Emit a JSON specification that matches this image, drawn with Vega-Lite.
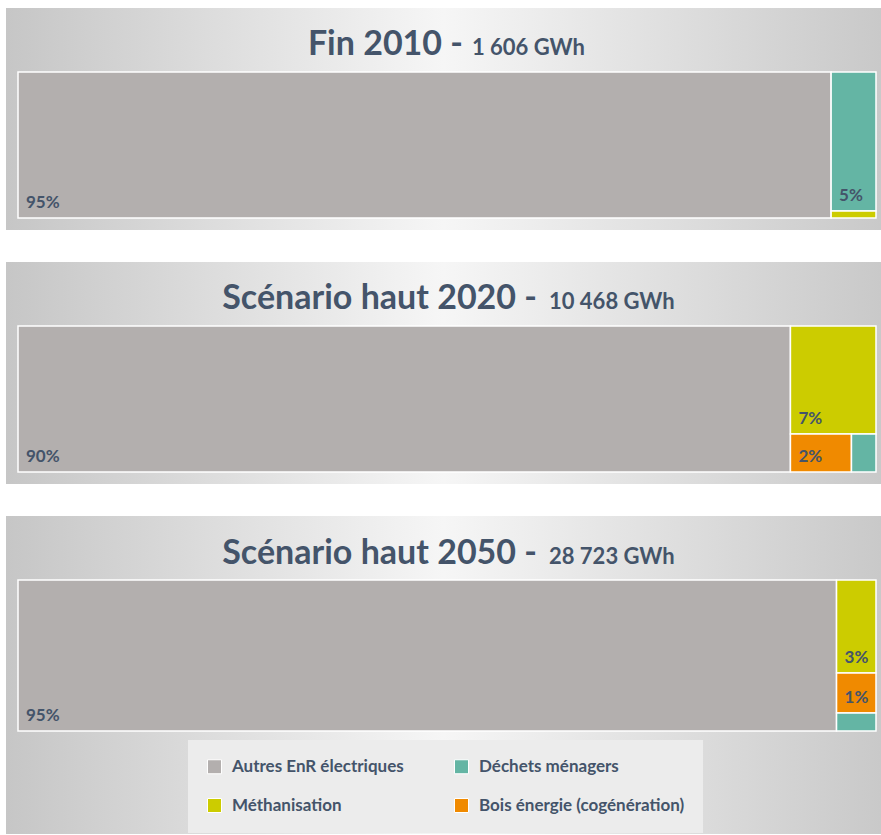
{
  "$schema": "https://vega.github.io/schema/vega-lite/v6.json",
  "padding": {"left": 6, "top": 8, "right": 0, "bottom": 0},
  "background": "white",
  "datasets": {
    "mix": [
      {"scenario": "2010", "categorie": "Autres EnR électriques", "gwh": 1522, "colonne": 1, "ligne": 1},
      {"scenario": "2010", "categorie": "Déchets ménagers", "gwh": 80, "colonne": 2, "ligne": 1},
      {"scenario": "2010", "categorie": "Méthanisation", "gwh": 4, "colonne": 2, "ligne": 2},
      {"scenario": "2020", "categorie": "Autres EnR électriques", "gwh": 9424, "colonne": 1, "ligne": 1},
      {"scenario": "2020", "categorie": "Méthanisation", "gwh": 772, "colonne": 2, "ligne": 1},
      {"scenario": "2020", "categorie": "Bois énergie (cogénération)", "gwh": 194, "colonne": 2, "ligne": 2},
      {"scenario": "2020", "categorie": "Déchets ménagers", "gwh": 78, "colonne": 2, "ligne": 2},
      {"scenario": "2050", "categorie": "Autres EnR électriques", "gwh": 27402, "colonne": 1, "ligne": 1},
      {"scenario": "2050", "categorie": "Méthanisation", "gwh": 813, "colonne": 2, "ligne": 1},
      {"scenario": "2050", "categorie": "Bois énergie (cogénération)", "gwh": 350, "colonne": 2, "ligne": 2},
      {"scenario": "2050", "categorie": "Déchets ménagers", "gwh": 158, "colonne": 2, "ligne": 3}
    ],
    "titres": [
      {"scenario": "2010", "titre": "Fin 2010 -", "total": "1 606 GWh"},
      {"scenario": "2020", "titre": "Scénario haut 2020 -", "total": "10 468 GWh"},
      {"scenario": "2050", "titre": "Scénario haut 2050 -", "total": "28 723 GWh"}
    ]
  },
  "vconcat": [
    {
      "width": 875, "height": 222,
      "data": {"name": "mix"},
      "transform": [
        {"filter": "datum.scenario == '2010'"},
        {"joinaggregate": [{"op": "sum", "field": "gwh", "as": "total"}]},
        {"joinaggregate": [{"op": "sum", "field": "gwh", "as": "colTot"}], "groupby": ["colonne"]},
        {"joinaggregate": [{"op": "sum", "field": "gwh", "as": "rowTot"}], "groupby": ["colonne", "ligne"]},
        {"window": [{"op": "sum", "field": "gwh", "as": "colEnd"}], "sort": [{"field": "colonne"}], "frame": [null, 0], "ignorePeers": false},
        {"window": [{"op": "sum", "field": "gwh", "as": "rowEnd"}], "groupby": ["colonne"], "sort": [{"field": "ligne"}], "frame": [null, 0], "ignorePeers": false},
        {"window": [{"op": "sum", "field": "gwh", "as": "itemEnd"}], "groupby": ["colonne", "ligne"], "sort": [{"field": "gwh", "order": "descending"}], "frame": [null, 0], "ignorePeers": false},
        {"calculate": "100*(datum.colEnd-datum.colTot)/datum.total", "as": "x0"},
        {"calculate": "100*datum.colEnd/datum.total", "as": "x1"},
        {"calculate": "datum.x0+(datum.x1-datum.x0)*(datum.itemEnd-datum.gwh)/datum.rowTot", "as": "xa"},
        {"calculate": "datum.x0+(datum.x1-datum.x0)*datum.itemEnd/datum.rowTot", "as": "xb"},
        {"calculate": "100*(datum.rowEnd-datum.rowTot)/datum.colTot", "as": "ya"},
        {"calculate": "100*datum.rowEnd/datum.colTot", "as": "yb"},
        {"calculate": "datum.gwh/datum.total", "as": "part"}
      ],
      "layer": [
        {
          "mark": {"type": "rect", "stroke": "white", "strokeWidth": 1.5},
          "encoding": {
            "x": {"field": "xa", "type": "quantitative", "scale": {"domain": [-1.3986, 100.583], "nice": false, "zero": false}, "axis": null},
            "x2": {"field": "xb"},
            "y": {"field": "ya", "type": "quantitative", "scale": {"domain": [-43.84, 108.22], "reverse": true, "nice": false, "zero": false}, "axis": null},
            "y2": {"field": "yb"},
            "color": {"field": "categorie", "type": "nominal", "scale": {"domain": ["Autres EnR électriques", "Déchets ménagers", "Méthanisation", "Bois énergie (cogénération)"], "range": ["#b3afae", "#64b5a4", "#cccc00", "#f08a00"]}}
          }
        },
        {
          "transform": [{"filter": "datum.part >= 0.01"}],
          "mark": {"type": "text", "align": "left", "baseline": "alphabetic", "dx": 8, "dy": -10, "font": "Lato", "fontSize": 17, "fontWeight": "bold", "color": "#44546a"},
          "encoding": {
            "x": {"field": "xa", "type": "quantitative"},
            "y": {"field": "yb", "type": "quantitative"},
            "text": {"field": "part", "type": "quantitative", "format": ".0%"}
          }
        },
        {
          "data": {"name": "titres"},
          "transform": [{"filter": "datum.scenario == '2010'"}],
          "mark": {"type": "text", "align": "right", "baseline": "alphabetic", "dx": 16, "font": "Lato", "fontSize": 34, "fontWeight": "bold", "color": "#44546a"},
          "encoding": {"x": {"datum": 50, "type": "quantitative"}, "y": {"datum": -11.6, "type": "quantitative"}, "text": {"field": "titre"}}
        },
        {
          "data": {"name": "titres"},
          "transform": [{"filter": "datum.scenario == '2010'"}],
          "mark": {"type": "text", "align": "left", "baseline": "alphabetic", "dx": 25, "font": "Lato", "fontSize": 22, "fontWeight": "bold", "color": "#44546a"},
          "encoding": {"x": {"datum": 50, "type": "quantitative"}, "y": {"datum": -11.6, "type": "quantitative"}, "text": {"field": "total"}}
        }
      ]
    },
    {
      "width": 875, "height": 222,
      "data": {"name": "mix"},
      "transform": [
        {"filter": "datum.scenario == '2020'"},
        {"joinaggregate": [{"op": "sum", "field": "gwh", "as": "total"}]},
        {"joinaggregate": [{"op": "sum", "field": "gwh", "as": "colTot"}], "groupby": ["colonne"]},
        {"joinaggregate": [{"op": "sum", "field": "gwh", "as": "rowTot"}], "groupby": ["colonne", "ligne"]},
        {"window": [{"op": "sum", "field": "gwh", "as": "colEnd"}], "sort": [{"field": "colonne"}], "frame": [null, 0], "ignorePeers": false},
        {"window": [{"op": "sum", "field": "gwh", "as": "rowEnd"}], "groupby": ["colonne"], "sort": [{"field": "ligne"}], "frame": [null, 0], "ignorePeers": false},
        {"window": [{"op": "sum", "field": "gwh", "as": "itemEnd"}], "groupby": ["colonne", "ligne"], "sort": [{"field": "gwh", "order": "descending"}], "frame": [null, 0], "ignorePeers": false},
        {"calculate": "100*(datum.colEnd-datum.colTot)/datum.total", "as": "x0"},
        {"calculate": "100*datum.colEnd/datum.total", "as": "x1"},
        {"calculate": "datum.x0+(datum.x1-datum.x0)*(datum.itemEnd-datum.gwh)/datum.rowTot", "as": "xa"},
        {"calculate": "datum.x0+(datum.x1-datum.x0)*datum.itemEnd/datum.rowTot", "as": "xb"},
        {"calculate": "100*(datum.rowEnd-datum.rowTot)/datum.colTot", "as": "ya"},
        {"calculate": "100*datum.rowEnd/datum.colTot", "as": "yb"},
        {"calculate": "datum.gwh/datum.total", "as": "part"}
      ],
      "layer": [
        {
          "mark": {"type": "rect", "stroke": "white", "strokeWidth": 1.5},
          "encoding": {
            "x": {"field": "xa", "type": "quantitative", "scale": {"domain": [-1.3986, 100.583], "nice": false, "zero": false}, "axis": null},
            "x2": {"field": "xb"},
            "y": {"field": "ya", "type": "quantitative", "scale": {"domain": [-43.84, 108.22], "reverse": true, "nice": false, "zero": false}, "axis": null},
            "y2": {"field": "yb"},
            "color": {"field": "categorie", "type": "nominal"}
          }
        },
        {
          "transform": [{"filter": "datum.part >= 0.01"}],
          "mark": {"type": "text", "align": "left", "baseline": "alphabetic", "dx": 8, "dy": -10, "font": "Lato", "fontSize": 17, "fontWeight": "bold", "color": "#44546a"},
          "encoding": {
            "x": {"field": "xa", "type": "quantitative"},
            "y": {"field": "yb", "type": "quantitative"},
            "text": {"field": "part", "type": "quantitative", "format": ".0%"}
          }
        },
        {
          "data": {"name": "titres"},
          "transform": [{"filter": "datum.scenario == '2020'"}],
          "mark": {"type": "text", "align": "right", "baseline": "alphabetic", "dx": 90, "font": "Lato", "fontSize": 34, "fontWeight": "bold", "color": "#44546a"},
          "encoding": {"x": {"datum": 50, "type": "quantitative"}, "y": {"datum": -11.6, "type": "quantitative"}, "text": {"field": "titre"}}
        },
        {
          "data": {"name": "titres"},
          "transform": [{"filter": "datum.scenario == '2020'"}],
          "mark": {"type": "text", "align": "left", "baseline": "alphabetic", "dx": 102, "font": "Lato", "fontSize": 22, "fontWeight": "bold", "color": "#44546a"},
          "encoding": {"x": {"datum": 50, "type": "quantitative"}, "y": {"datum": -11.6, "type": "quantitative"}, "text": {"field": "total"}}
        }
      ]
    },
    {
      "width": 875, "height": 318,
      "data": {"name": "mix"},
      "transform": [
        {"filter": "datum.scenario == '2050'"},
        {"joinaggregate": [{"op": "sum", "field": "gwh", "as": "total"}]},
        {"joinaggregate": [{"op": "sum", "field": "gwh", "as": "colTot"}], "groupby": ["colonne"]},
        {"joinaggregate": [{"op": "sum", "field": "gwh", "as": "rowTot"}], "groupby": ["colonne", "ligne"]},
        {"window": [{"op": "sum", "field": "gwh", "as": "colEnd"}], "sort": [{"field": "colonne"}], "frame": [null, 0], "ignorePeers": false},
        {"window": [{"op": "sum", "field": "gwh", "as": "rowEnd"}], "groupby": ["colonne"], "sort": [{"field": "ligne"}], "frame": [null, 0], "ignorePeers": false},
        {"window": [{"op": "sum", "field": "gwh", "as": "itemEnd"}], "groupby": ["colonne", "ligne"], "sort": [{"field": "gwh", "order": "descending"}], "frame": [null, 0], "ignorePeers": false},
        {"calculate": "100*(datum.colEnd-datum.colTot)/datum.total", "as": "x0"},
        {"calculate": "100*datum.colEnd/datum.total", "as": "x1"},
        {"calculate": "datum.x0+(datum.x1-datum.x0)*(datum.itemEnd-datum.gwh)/datum.rowTot", "as": "xa"},
        {"calculate": "datum.x0+(datum.x1-datum.x0)*datum.itemEnd/datum.rowTot", "as": "xb"},
        {"calculate": "100*(datum.rowEnd-datum.rowTot)/datum.colTot", "as": "ya"},
        {"calculate": "100*datum.rowEnd/datum.colTot", "as": "yb"},
        {"calculate": "datum.gwh/datum.total", "as": "part"}
      ],
      "layer": [
        {
          "mark": {"type": "rect", "stroke": "white", "strokeWidth": 1.5},
          "encoding": {
            "x": {"field": "xa", "type": "quantitative", "scale": {"domain": [-1.3986, 100.583], "nice": false, "zero": false}, "axis": null},
            "x2": {"field": "xb"},
            "y": {"field": "ya", "type": "quantitative", "scale": {"domain": [-42.38, 168.21], "reverse": true, "nice": false, "zero": false}, "axis": null},
            "y2": {"field": "yb"},
            "color": {"field": "categorie", "type": "nominal"}
          }
        },
        {
          "transform": [{"filter": "datum.part >= 0.01"}],
          "mark": {"type": "text", "align": "left", "baseline": "alphabetic", "dx": 8, "dy": -10, "font": "Lato", "fontSize": 17, "fontWeight": "bold", "color": "#44546a"},
          "encoding": {
            "x": {"field": "xa", "type": "quantitative"},
            "y": {"field": "yb", "type": "quantitative"},
            "text": {"field": "part", "type": "quantitative", "format": ".0%"}
          }
        },
        {
          "data": {"name": "titres"},
          "transform": [{"filter": "datum.scenario == '2050'"}],
          "mark": {"type": "text", "align": "right", "baseline": "alphabetic", "dx": 90, "font": "Lato", "fontSize": 34, "fontWeight": "bold", "color": "#44546a"},
          "encoding": {"x": {"datum": 50, "type": "quantitative"}, "y": {"datum": -10.6, "type": "quantitative"}, "text": {"field": "titre"}}
        },
        {
          "data": {"name": "titres"},
          "transform": [{"filter": "datum.scenario == '2050'"}],
          "mark": {"type": "text", "align": "left", "baseline": "alphabetic", "dx": 102, "font": "Lato", "fontSize": 22, "fontWeight": "bold", "color": "#44546a"},
          "encoding": {"x": {"datum": 50, "type": "quantitative"}, "y": {"datum": -10.6, "type": "quantitative"}, "text": {"field": "total"}}
        }
      ]
    }
  ],
  "spacing": 32,
  "resolve": {"scale": {"x": "independent", "y": "independent", "color": "shared"}},
  "config": {
    "view": {
      "stroke": null,
      "fill": {"gradient": "linear", "x1": 0, "y1": 0, "x2": 1, "y2": 0, "stops": [{"offset": 0, "color": "#c6c6c6"}, {"offset": 0.5, "color": "#f6f6f6"}, {"offset": 1, "color": "#c9c9c9"}]}
    },
    "legend": {
      "orient": "none",
      "direction": "horizontal",
      "legendX": 182,
      "legendY": 732,
      "columns": 2,
      "title": null,
      "symbolType": "square",
      "symbolSize": 196,
      "symbolStrokeColor": "white",
      "symbolStrokeWidth": 1,
      "symbolOpacity": 1,
      "labelFont": "Lato",
      "labelFontSize": 17,
      "labelFontWeight": "bold",
      "labelColor": "#44546a",
      "labelOffset": 9,
      "labelLimit": 400,
      "fillColor": "#ececec",
      "padding": 18,
      "rowPadding": 20,
      "columnPadding": 48
    }
  }
}
